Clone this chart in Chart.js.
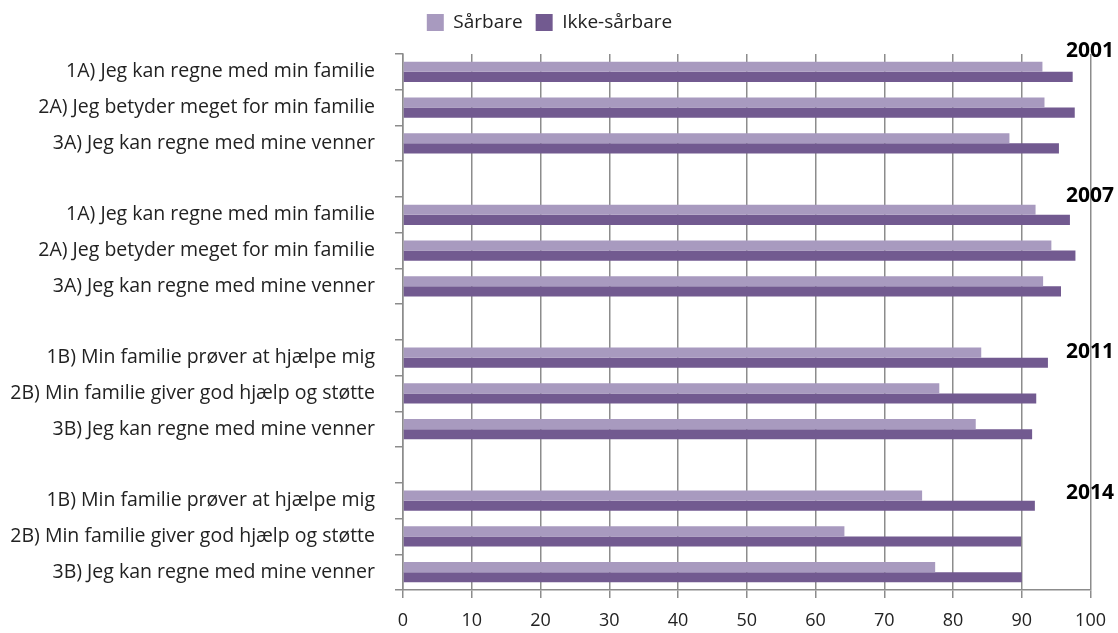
<!DOCTYPE html>
<html>
<head>
<meta charset="utf-8">
<script src="https://cdn.jsdelivr.net/npm/chart.js@4/dist/chart.umd.min.js"></script>
<style>
  html, body { margin: 0; padding: 0; background: #fff; }
  #wrap { width: 1118px; height: 633px; }
</style>
</head>
<body>
<div id="wrap"><canvas id="graph" width="1118" height="633"></canvas></div>
<script>
'use strict';

// kategorier (tomme rækker adskiller årene)
const labels = [
  '1A) Jeg kan regne med min familie',
  '2A) Jeg betyder meget for min familie',
  '3A) Jeg kan regne med mine venner',
  '',
  '1A) Jeg kan regne med min familie',
  '2A) Jeg betyder meget for min familie',
  '3A) Jeg kan regne med mine venner',
  '',
  '1B) Min familie prøver at hjælpe mig',
  '2B) Min familie giver god hjælp og støtte',
  '3B) Jeg kan regne med mine venner',
  '',
  '1B) Min familie prøver at hjælpe mig',
  '2B) Min familie giver god hjælp og støtte',
  '3B) Jeg kan regne med mine venner'
];

const saarbare = [93.0, 93.3, 88.2, null, 92.0, 94.3, 93.1, null, 84.1, 78.0, 83.3, null, 75.5, 64.2, 77.4];
const ikkeSaarbare = [97.4, 97.7, 95.4, null, 97.0, 97.8, 95.7, null, 93.8, 92.1, 91.5, null, 91.9, 89.9, 90.0];

const years = ['2001', '2007', '2011', '2014'];
const yearRows = [0, 4, 8, 12]; // første række i hver gruppe

const FONT = '"Open Sans", "DejaVu Sans", sans-serif';
const GRID = '#8c8c8c';

// årstal i højre side
const yearPlugin = {
  id: 'yearLabels',
  afterDraw(chart) {
    const ctx = chart.ctx;
    const yScale = chart.scales.y;
    const rowH = yScale.height / labels.length;
    const shift = [-0.58, -0.53, -0.17, -0.22];
    ctx.save();
    ctx.font = 'bold 21px ' + FONT;
    ctx.fillStyle = '#000';
    ctx.textAlign = 'right';
    ctx.textBaseline = 'middle';
    for (let i = 0; i < years.length; i++) {
      const y = yScale.getPixelForValue(yearRows[i]) + shift[i] * rowH;
      ctx.fillText(years[i], chart.width - 4, y);
    }
    ctx.restore();
  }
};

// lidt ekstra luft under forklaringen
const legendGap = {
  id: 'legendGap',
  beforeLayout(chart) {
    const lg = chart.legend;
    if (lg && !lg._gap) {
      const fit = lg.fit;
      lg.fit = function () {
        fit.call(this);
        this.height += 12;
      };
      lg._gap = true;
    }
  }
};

const context = document.querySelector('#graph').getContext('2d');
const chart = new Chart(context, {
  type: 'bar',
  data: {
    labels: labels,
    datasets: [
      {
        label: 'Sårbare',
        data: saarbare,
        backgroundColor: '#a89abf',
        categoryPercentage: 0.567,
        barPercentage: 1.0
      },
      {
        label: 'Ikke-sårbare',
        data: ikkeSaarbare,
        backgroundColor: '#725a90',
        categoryPercentage: 0.567,
        barPercentage: 1.0
      }
    ]
  },
  options: {
    indexAxis: 'y',
    responsive: false,
    animation: false,
    layout: { padding: { left: 8, right: 27, top: 0, bottom: 0 } },
    plugins: {
      legend: {
        position: 'top',
        labels: {
          boxWidth: 17,
          boxHeight: 17,
          padding: 13,
          color: '#222',
          font: { family: FONT, size: 19 }
        }
      },
      tooltip: { enabled: false }
    },
    scales: {
      x: {
        min: 0,
        max: 100,
        ticks: {
          stepSize: 10,
          padding: 12,
          color: '#222',
          font: { family: FONT, size: 18 }
        },
        grid: {
          color: GRID,
          lineWidth: 1.5,
          tickLength: 8
        },
        border: { color: GRID, width: 1.5 },
        afterFit(scale) { scale.height = 43; }
      },
      y: {
        ticks: {
          padding: 20,
          color: '#222',
          autoSkip: false,
          font: { family: FONT, size: 19.5 }
        },
        grid: {
          offset: true,
          drawOnChartArea: false,
          color: GRID,
          lineWidth: 1.5,
          tickLength: 8
        },
        border: { color: GRID, width: 1.5 },
        afterFit(scale) { scale.width = 395; }
      }
    }
  },
  plugins: [legendGap, yearPlugin]
});
</script>
</body>
</html>
